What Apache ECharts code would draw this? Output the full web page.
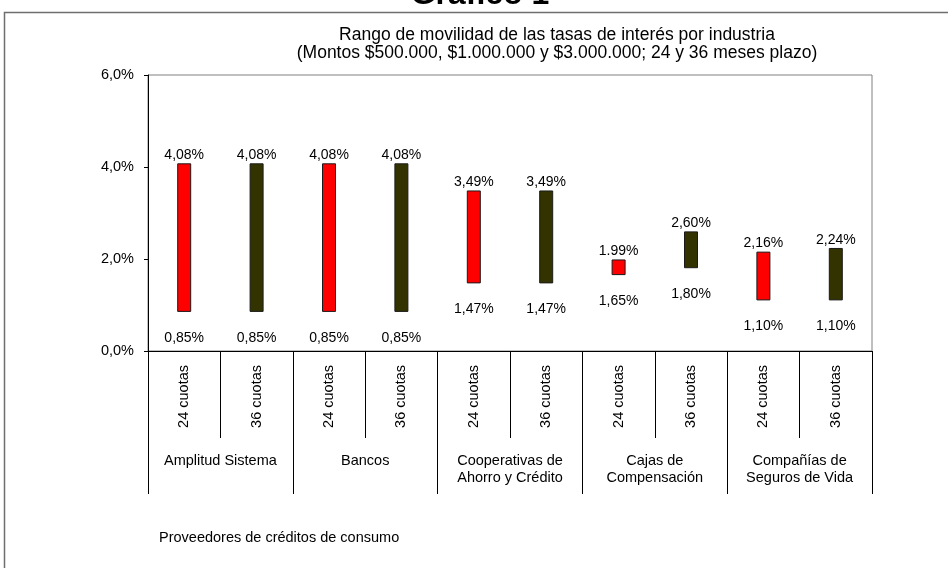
<!DOCTYPE html>
<html>
<head>
<meta charset="utf-8">
<script src="https://cdn.jsdelivr.net/npm/echarts@6/dist/echarts.min.js"></script>
<style>
  html, body { margin: 0; padding: 0; background: #fff; }
  #chart { width: 948px; height: 568px; }
</style>
</head>
<body>
<div id="chart"></div>
<script>
// Rango de movilidad de las tasas por industria: barras flotantes (mín → máx)
const groups = ['Amplitud Sistema', 'Bancos', 'Cooperativas de\nAhorro y Crédito', 'Cajas de\nCompensación', 'Compañías de\nSeguros de Vida']
const plazos = ['24 cuotas', '36 cuotas', '24 cuotas', '36 cuotas', '24 cuotas', '36 cuotas', '24 cuotas', '36 cuotas', '24 cuotas', '36 cuotas']
const minRate = [0.85, 0.85, 0.85, 0.85, 1.47, 1.47, 1.65, 1.80, 1.10, 1.10]
const maxRate = [4.08, 4.08, 4.08, 4.08, 3.49, 3.49, 1.99, 2.60, 2.16, 2.24]
const minLabels = ['0,85%', '0,85%', '0,85%', '0,85%', '1,47%', '1,47%', '1,65%', '1,80%', '1,10%', '1,10%']
const maxLabels = ['4,08%', '4,08%', '4,08%', '4,08%', '3,49%', '3,49%', '1.99%', '2,60%', '2,16%', '2,24%']
const yTicks = [0, 2, 4, 6]

const FONT = '"Liberation Sans", Arial, sans-serif'
const plazoColors = ['#FF0000', '#333300']

const chart = echarts.init(document.getElementById('chart'), null, { renderer: 'canvas' })

chart.setOption({
  animation: false,
  backgroundColor: '#ffffff',
  textStyle: { fontFamily: FONT, color: '#000' },
  graphic: [
    // marco exterior
    { type: 'rect', shape: { x: 4.5, y: 12.5, width: 1000, height: 700 }, style: { fill: 'none', stroke: '#6e6e6e', lineWidth: 1.5 }, silent: true },
    { type: 'text', x: 480, y: -5, style: { text: 'Gráfico 1', font: 'bold 32px ' + FONT, fill: '#000', align: 'center', verticalAlign: 'middle' } },
    { type: 'text', x: 557, y: 35, style: { text: 'Rango de movilidad de las tasas de interés por industria', font: '17.5px ' + FONT, fill: '#000', align: 'center', verticalAlign: 'middle' } },
    { type: 'text', x: 557, y: 53, style: { text: '(Montos $500.000, $1.000.000 y $3.000.000; 24 y 36 meses plazo)', font: '17.5px ' + FONT, fill: '#000', align: 'center', verticalAlign: 'middle' } },
    { type: 'text', x: 159, y: 538, style: { text: 'Proveedores de créditos de consumo', font: '14.5px ' + FONT, fill: '#000', align: 'left', verticalAlign: 'middle' } }
  ],
  grid: {
    left: 148, top: 75, width: 724, height: 276,
    show: true, borderColor: '#808080', borderWidth: 1, backgroundColor: '#fff'
  },
  xAxis: [
    {
      type: 'category',
      data: plazos,
      position: 'bottom',
      axisLine: { lineStyle: { color: '#000', width: 1 } },
      axisTick: { show: true, interval: 0, length: 87, lineStyle: { color: '#000' } },
      axisLabel: { interval: 0, rotate: 90, margin: 14, fontSize: 14.5, color: '#000', fontFamily: FONT }
    },
    {
      type: 'category',
      data: groups,
      position: 'bottom',
      axisLine: { show: false },
      axisTick: { show: true, interval: 0, length: 143, lineStyle: { color: '#000' } },
      axisLabel: { interval: 0, margin: 101, fontSize: 14.5, lineHeight: 17, color: '#000', fontFamily: FONT, align: 'center' }
    }
  ],
  yAxis: {
    type: 'value',
    min: yTicks[0],
    max: yTicks[yTicks.length - 1],
    interval: 2,
    axisLine: { show: true, lineStyle: { color: '#000', width: 1 } },
    axisTick: { show: true, length: 4, lineStyle: { color: '#000' } },
    splitLine: { show: false },
    axisLabel: {
      margin: 14, fontSize: 14.5, color: '#000', fontFamily: FONT,
      formatter: (v) => v.toFixed(1).replace('.', ',') + '%'
    }
  },
  series: [
    {
      // base invisible: lleva la etiqueta del mínimo
      type: 'bar',
      stack: 'rango',
      barWidth: 14,
      data: minRate,
      itemStyle: { color: 'transparent' },
      label: {
        show: true,
        position: 'insideTop',
        distance: 19,
        fontSize: 14,
        color: '#000',
        fontFamily: FONT,
        formatter: (p) => minLabels[p.dataIndex]
      },
      silent: true
    },
    {
      type: 'bar',
      stack: 'rango',
      barWidth: 14,
      data: maxRate.map((v, i) => v - minRate[i]),
      itemStyle: {
        color: (p) => plazoColors[p.dataIndex % 2],
        borderColor: '#1a1a1a',
        borderWidth: 1
      },
      label: {
        show: true,
        position: 'top',
        distance: 1,
        fontSize: 14,
        color: '#000',
        fontFamily: FONT,
        formatter: (p) => maxLabels[p.dataIndex]
      }
    }
  ]
})
</script>
</body>
</html>
